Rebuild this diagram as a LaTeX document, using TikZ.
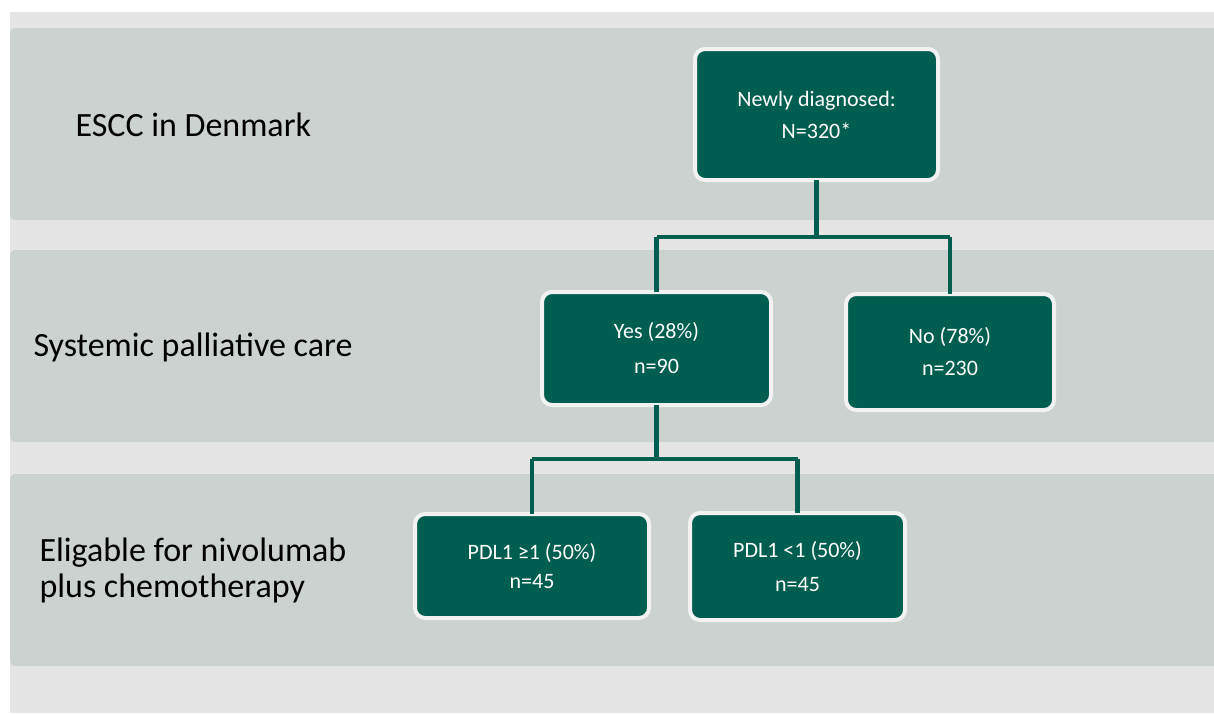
\documentclass[tikz,border=0pt]{standalone}
\usepackage{fontspec}
\setmainfont{Carlito}
\definecolor{outerbg}{HTML}{E5E5E5}
\definecolor{band}{HTML}{CBD2CF}
\definecolor{boxgreen}{HTML}{005E50}
\definecolor{boxedge}{HTML}{F2F2F2}
\tikzset{
  bandrect/.style={fill=band, rounded corners=5pt},
  greenbox/.style={fill=boxgreen, draw=boxedge, line width=4pt, rounded corners=10pt,
    text=white, align=center, font=\fontsize{22}{32}\selectfont, inner sep=0pt},
  conn/.style={draw=boxgreen, line width=4.5pt},
  lefttext/.style={anchor=west, align=left, font=\fontsize{34}{36}\selectfont, text=black}
}
\begin{document}
\begin{tikzpicture}[x=1pt,y=-1pt]
\useasboundingbox (0,0) rectangle (1214,713);
\clip (0,0) rectangle (1214,713);
\fill[white] (0,0) rectangle (1214,713);
\fill[outerbg] (10,12) rectangle (1214,713);
\fill[bandrect] (10,28) rectangle (1230,220);
\fill[bandrect] (10,250) rectangle (1230,442);
\fill[bandrect] (10,474) rectangle (1230,666);

\node[lefttext] (l1) at (72,125) {ESCC in Denmark};
\node[lefttext] (l2) at (30,347) {Systemic palliative care};
\node[lefttext] (l3) at (36,570) {Eligable for nivolumab\\plus chemotherapy};

\node[greenbox, minimum width=243pt, minimum height=131pt] (top) at (816.5,114.5) {Newly diagnosed:\\N=320*};
\node[greenbox, minimum width=229pt, minimum height=113pt, font=\fontsize{22}{35}\selectfont] (yes) at (656.5,348.5) {Yes (28\%)\\n=90};
\node[greenbox, minimum width=208pt, minimum height=116pt] (no) at (950,352) {No (78\%)\\n=230};
\node[greenbox, minimum width=234pt, minimum height=104pt, font=\fontsize{22}{29}\selectfont] (p1) at (532,566) {PDL1 ≥1 (50\%)\\n=45};
\node[greenbox, minimum width=215pt, minimum height=107pt, font=\fontsize{22}{34}\selectfont] (p2) at (797.5,566.5) {PDL1 <1 (50\%)\\n=45};

\coordinate (j1) at (816.5,237);
\coordinate (j2) at (656.5,459);
\draw[conn] ([yshift=2pt]top.south) -- (j1);
\draw[conn] (yes.north |- j1) -- (no.north |- j1);
\draw[conn] (yes.north |- j1) -- ([yshift=-2pt]yes.north);
\draw[conn] (no.north |- j1) -- ([yshift=-2pt]no.north);
\draw[conn] ([yshift=2pt]yes.south) -- (j2);
\draw[conn] (p1.north |- j2) -- (p2.north |- j2);
\draw[conn] (p1.north |- j2) -- ([yshift=-2pt]p1.north);
\draw[conn] (p2.north |- j2) -- ([yshift=-2pt]p2.north);
\end{tikzpicture}
\end{document}
